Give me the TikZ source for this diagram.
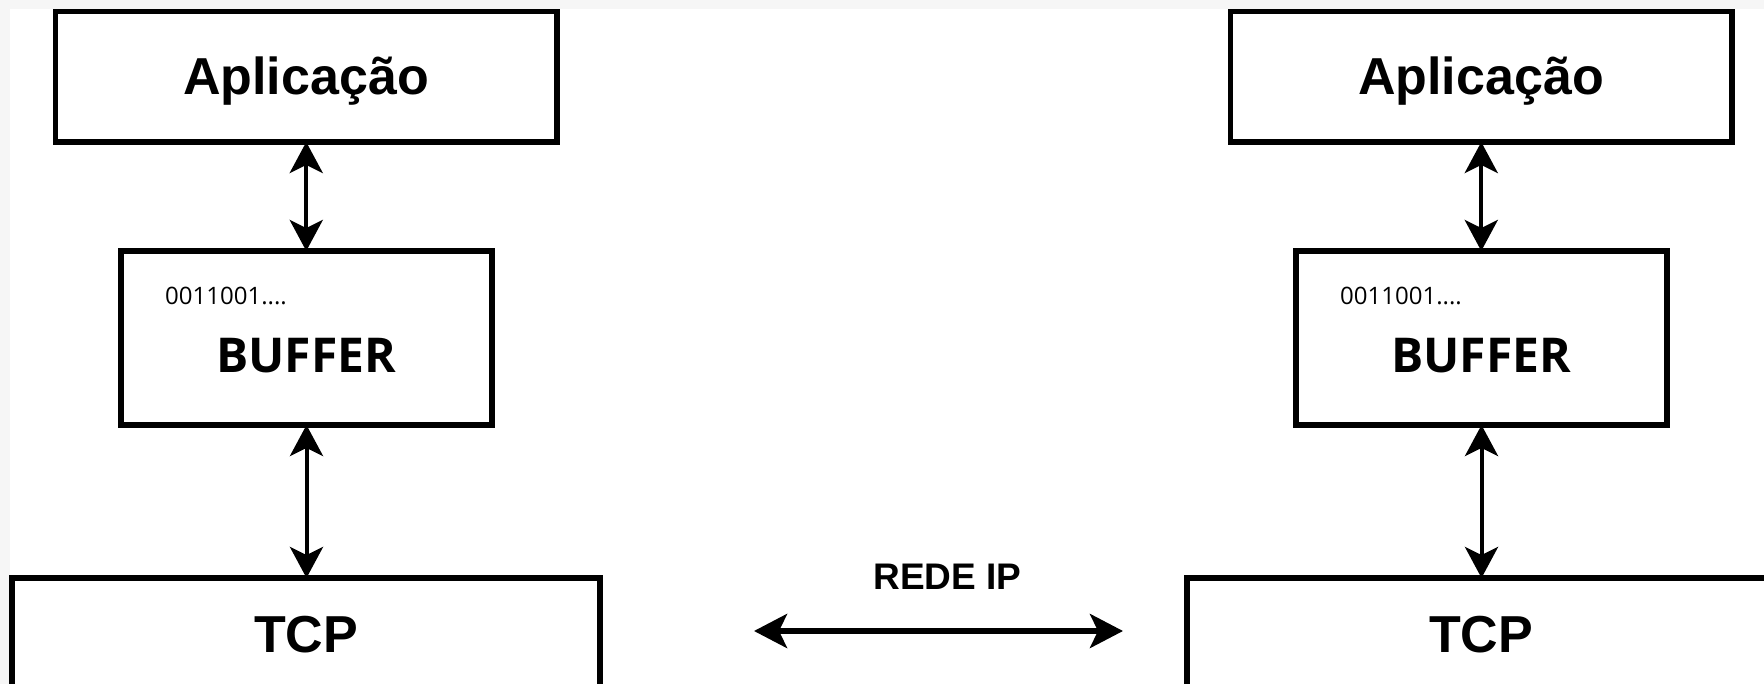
\documentclass[tikz,border=0pt]{standalone}
\usepackage{fontspec}
\setmainfont{Liberation Sans}
\newfontfamily\osans{Open Sans}
\usetikzlibrary{arrows.meta}
\definecolor{edgegray}{HTML}{F6F6F6}
\tikzset{
  box/.style={draw=black, line width=5.5pt, fill=white, inner sep=0pt, outer sep=0pt},
  vlink/.style={line width=4pt, {Stealth[length=31pt,width=33pt,inset=8pt]}-{Stealth[length=31pt,width=33pt,inset=8pt]}},
  hlink/.style={line width=5.5pt, {Stealth[length=33pt,width=34pt,inset=8pt]}-{Stealth[length=33pt,width=34pt,inset=8pt]}},
  bigtxt/.style={inner sep=0pt, anchor=base, font=\bfseries\fontsize{52}{60}\selectfont},
  buftxt/.style={inner sep=0pt, anchor=base, font=\osans\bfseries\fontsize{48}{56}\selectfont},
  bittxt/.style={inner sep=0pt, anchor=base west, font=\osans\fontsize{24}{28}\selectfont},
  nettxt/.style={inner sep=0pt, anchor=base, font=\bfseries\fontsize{37}{44}\selectfont}
}
\begin{document}
\begin{tikzpicture}[x=1pt,y=-1pt]
\useasboundingbox (0,0) rectangle (1764,684);
\fill[white] (0,0) rectangle (1764,684);
\fill[edgegray] (0,0) rectangle (1764,9);
\fill[edgegray] (0,0) rectangle (10,684);
\clip (0,0) rectangle (1764,684);
% left stack
\node[box, minimum width=501.5pt, minimum height=130.5pt] (appL) at (306.25,76.75) {};
\node[box, minimum width=371pt, minimum height=174pt] (bufL) at (306.5,338) {};
\node[box, minimum width=588pt, minimum height=140pt] (tcpL) at (306,648) {};
\node[bigtxt] (appLt) at (306,95) {Aplicação};
\node[bittxt] (bitsL) at (165,305) {0011001....};
\node[buftxt] (bufLt) at (306,373) {BUFFER};
\node[bigtxt] (tcpLt) at (306,652) {TCP};
% right stack
\node[box, minimum width=501.5pt, minimum height=130.5pt] (appR) at (1481.25,76.75) {};
\node[box, minimum width=371pt, minimum height=174pt] (bufR) at (1481.5,338) {};
\node[box, minimum width=588pt, minimum height=140pt] (tcpR) at (1481,648) {};
\node[bigtxt] (appRt) at (1481,95) {Aplicação};
\node[bittxt] (bitsR) at (1340,305) {0011001....};
\node[buftxt] (bufRt) at (1481,373) {BUFFER};
\node[bigtxt] (tcpRt) at (1481,652) {TCP};
% connectors
\draw[vlink] (appL.south) -- (appL.south |- bufL.north);
\draw[vlink] (bufL.south) -- (bufL.south |- tcpL.north);
\draw[vlink] (appR.south) -- (appR.south |- bufR.north);
\draw[vlink] (bufR.south) -- (bufR.south |- tcpR.north);
% network
\node[nettxt] (rede) at (947.5,589) {REDE IP};
\coordinate (netL) at (754,631);
\coordinate (netR) at (1123,631);
\draw[hlink] (netL) -- (netR);
\end{tikzpicture}
\end{document}
